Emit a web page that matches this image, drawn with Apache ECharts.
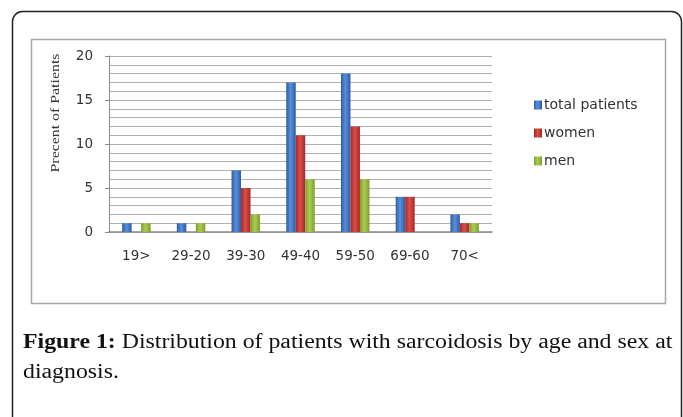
<!DOCTYPE html>
<html><head><meta charset="utf-8">
<script src="https://cdn.jsdelivr.net/npm/echarts@6/dist/echarts.min.js"></script>
<style>html,body{margin:0;padding:0;background:#fff}#c{width:683px;height:417px}</style>
</head><body><div id="c"></div>
<script>
var categories = ['19>', '29-20', '39-30', '49-40', '59-50', '69-60', '70<'];
var totalPatients = [1, 1, 7, 17, 18, 4, 2];
var women = [0, 0, 5, 11, 12, 4, 1];
var men = [1, 1, 2, 6, 6, 0, 1];
var seriesNames = ['total patients', 'women', 'men'];
var yTicks = [0, 5, 10, 15, 20];

function grad(edge, mid) {
  return new echarts.graphic.LinearGradient(0, 0, 1, 0, [
    {offset: 0, color: edge}, {offset: 0.45, color: mid}, {offset: 1, color: edge}
  ]);
}
var colors = [grad('#2d5da8', '#5a8fd8'), grad('#a82626', '#d8504a'), grad('#7e9f2c', '#abcc52')];

var chart = echarts.init(document.getElementById('c'));
var mk = function (name, data, i) {
  return {
    name: name, type: 'bar', data: data, barWidth: 9.5, barGap: '0%',
    itemStyle: {color: colors[i]}
  };
};
chart.setOption({
  animation: false,
  textStyle: {fontFamily: 'DejaVu Sans'},
  grid: {left: 109, right: 191, top: 56, bottom: 185},
  legend: {
    orient: 'vertical', left: 529, top: 93, itemWidth: 8, itemHeight: 9, itemGap: 14,
    icon: 'rect',
    textStyle: {fontSize: 14, color: '#333', fontFamily: 'DejaVu Sans', padding: [0, 0, 0, -3]},
    data: seriesNames
  },
  xAxis: {
    type: 'category', data: categories,
    axisLine: {lineStyle: {color: '#8a8a8a', width: 1.5}},
    axisTick: {show: false},
    axisLabel: {color: '#333', fontSize: 13.5, margin: 17}
  },
  yAxis: {
    type: 'value', min: yTicks[0], max: yTicks[yTicks.length - 1], interval: 5,
    axisLine: {show: true, lineStyle: {color: '#8a8a8a'}},
    axisTick: {show: true, length: 4, lineStyle: {color: '#8a8a8a'}},
    axisLabel: {color: '#333', fontSize: 13.5, margin: 16},
    splitLine: {lineStyle: {color: '#b0b0b0', width: 1}},
    minorTick: {show: false, splitNumber: 5},
    minorSplitLine: {show: true, lineStyle: {color: '#b0b0b0', width: 1}}
  },
  series: [mk(seriesNames[0], totalPatients, 0), mk(seriesNames[1], women, 1), mk(seriesNames[2], men, 2)],
  graphic: [
    {type: 'rect', shape: {x: 12.5, y: 11.5, width: 669, height: 460, r: 10}, style: {fill: 'none', stroke: '#222', lineWidth: 1.5}, silent: true},
    {type: 'rect', shape: {x: 31.5, y: 39.5, width: 634, height: 264}, style: {fill: 'none', stroke: '#a8a8a8', lineWidth: 1.5}, silent: true},
    {type: 'text', x: 56, y: 113, rotation: Math.PI / 2, scaleX: 1.22,
      style: {text: 'Precent of Patients', font: '13px "Liberation Serif"', fill: '#333', textAlign: 'center', textVerticalAlign: 'middle'}},
    {type: 'text', x: 23, y: 328, scaleX: 1.19,
      style: {
        text: '{b|Figure 1:} Distribution of patients with sarcoidosis by age and sex at\n{n|diagnosis.}',
        font: '20px "Liberation Serif"', fill: '#111', lineHeight: 30,
        rich: {b: {font: 'bold 20px "Liberation Serif"', fill: '#111', lineHeight: 30},
               n: {font: '20px "Liberation Serif"', fill: '#111', lineHeight: 30}}
      }}
  ]
});
</script></body></html>
